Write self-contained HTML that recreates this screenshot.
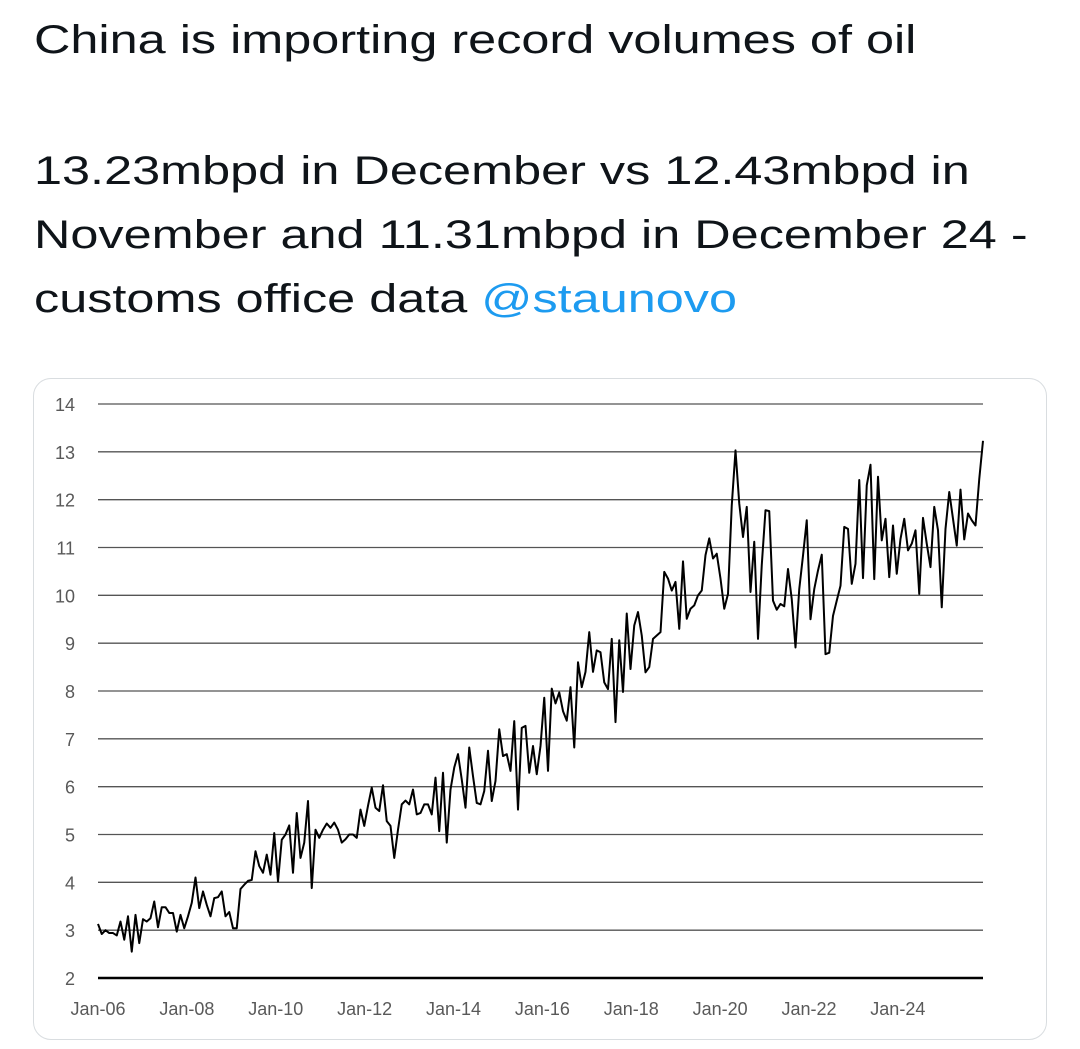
<!DOCTYPE html>
<html><head><meta charset="utf-8"><style>
body{margin:0;width:1080px;height:1049px;background:#fff;font-family:"Liberation Sans",sans-serif;overflow:hidden;position:relative}
.t{position:absolute;left:34px;font-size:40px;color:#0f1419;line-height:64px;white-space:nowrap;transform:scaleX(1.26);transform-origin:0 0}
.card{position:absolute;left:33px;top:378px;width:1014px;height:662px;border:1px solid #d9dde0;border-radius:18px;box-sizing:border-box}
a{color:#1d9bf0;text-decoration:none}
</style></head><body>
<div class="t" style="top:8px">China is importing record volumes of oil</div>
<div class="t" style="top:139px">13.23mbpd in December vs 12.43mbpd in<br>November and 11.31mbpd in December 24 -<br>customs office data <a>@staunovo</a></div>
<div class="card"></div>
<svg id="c" width="1080" height="1049" style="position:absolute;left:0;top:0"></svg>
<script>
const yTicks=[2,3,4,5,6,7,8,9,10,11,12,13,14];
const xTickLabels=["Jan-06","Jan-08","Jan-10","Jan-12","Jan-14","Jan-16","Jan-18","Jan-20","Jan-22","Jan-24"];
const xTickMonths=[0,24,48,72,96,120,144,168,192,216];
const imports=[3.13,2.92,3.0,2.94,2.94,2.89,3.18,2.8,3.29,2.55,3.32,2.73,3.23,3.18,3.25,3.6,3.06,3.48,3.48,3.36,3.36,2.97,3.32,3.04,3.29,3.57,4.1,3.46,3.81,3.53,3.29,3.67,3.69,3.81,3.29,3.38,3.04,3.04,3.86,3.95,4.03,4.05,4.65,4.34,4.2,4.58,4.16,5.03,4.02,4.89,5.0,5.19,4.2,5.45,4.51,4.83,5.7,3.88,5.1,4.93,5.1,5.23,5.14,
5.25,5.1,4.83,4.9,5.0,5.0,4.93,5.52,5.18,5.6,5.98,5.56,5.49,6.03,5.28,5.18,4.51,5.1,5.63,5.71,5.63,5.94,5.42,5.45,5.63,5.63,5.42,6.19,5.07,6.29,4.83,5.94,6.4,6.68,6.15,5.56,6.82,6.22,5.66,5.63,5.91,6.75,5.7,6.12,7.2,6.64,6.68,6.33,7.37,5.52,7.23,7.27,6.29,6.85,6.26,6.85,7.86,6.33,8.05,7.74,7.97,7.58,
7.38,8.08,6.82,8.6,8.08,8.4,9.23,8.4,8.85,8.81,8.18,8.04,9.09,7.35,9.06,7.98,9.62,8.46,9.37,9.65,9.16,8.39,8.5,9.09,9.16,9.23,10.49,10.35,10.1,10.28,9.3,10.71,9.51,9.72,9.79,10.0,10.1,10.84,11.19,10.77,10.87,10.35,9.72,10.03,11.88,13.03,11.92,11.22,11.85,10.07,11.12,9.09,10.63,11.78,
11.76,9.89,9.7,9.82,9.77,10.55,9.92,8.91,10.13,10.83,11.57,9.5,10.13,10.52,10.85,8.77,8.8,9.57,9.89,10.2,11.43,11.39,10.24,10.66,12.41,10.36,12.3,12.73,10.34,12.48,11.15,11.6,10.38,11.46,10.45,11.18,11.6,10.94,11.08,11.36,10.03,11.62,11.08,10.59,11.85,11.36,9.75,11.39,12.16,11.6,11.04,12.21,11.17,11.71,11.57,11.46,12.43,13.23];
const NS="http://www.w3.org/2000/svg",svg=document.getElementById('c');
const X0=98,X1=983,Y0=978,Y1=404;
const n=imports.length;
const xs=i=>X0+(X1-X0)*i/(n-1);
const xm=m=>X0+(X1-X0)*m/239;
const ys=v=>Y0-(Y0-Y1)*(v-2)/12;
function mk(t,a){const e=document.createElementNS(NS,t);for(const k in a)e.setAttribute(k,a[k]);svg.appendChild(e);return e;}
yTicks.forEach(v=>{
  const l=mk('line',{x1:X0,x2:X1,y1:ys(v),y2:ys(v),stroke:v===2?'#000':'#555','stroke-width':v===2?2.5:1.3});
  
  
  const t=mk('text',{x:75,y:ys(v)+7,'text-anchor':'end','font-size':18,fill:'#595959','font-family':'Liberation Sans, sans-serif'});
  t.textContent=v;
  
  
});
xTickLabels.forEach((s,i)=>{
  const t=mk('text',{x:xm(xTickMonths[i]),y:1015,'text-anchor':'middle','font-size':18,fill:'#595959','font-family':'Liberation Sans, sans-serif'});
  t.textContent=s;
  
  
});
const p=mk('polyline',{points:imports.map((v,i)=>xs(i)+','+ys(v)).join(' '),fill:'none',stroke:'#000','stroke-width':2,'stroke-linejoin':'round'});


</script>
</body></html>
